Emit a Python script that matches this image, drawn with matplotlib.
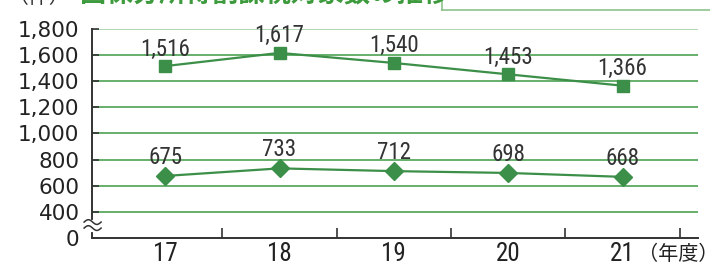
import matplotlib
matplotlib.use("Agg")
import matplotlib.pyplot as plt
import numpy as np
from matplotlib.lines import Line2D
from matplotlib import font_manager as fm

years = ["17", "18", "19", "20", "21"]
upper = [1516, 1617, 1540, 1453, 1366]
lower = [675, 733, 712, 698, 668]
yticks = [200, 400, 600, 800, 1000, 1200, 1400, 1600, 1800]
ytick_labels = ["0", "400", "600", "800", "1,000", "1,200", "1,400", "1,600", "1,800"]

# look for a condensed sans font for the numbers
cond_path = None
prefs = ["Liberation Sans Narrow", "Roboto Condensed", "DejaVu Sans Condensed",
         "Open Sans Condensed", "Noto Sans Condensed"]
for f in fm.fontManager.ttflist:
    fn = f.fname.lower()
    if ("condensed" in fn or "narrow" in fn) and "bold" not in fn and "italic" not in fn \
            and "light" not in fn and "oblique" not in fn and "semi" not in fn:
        if cond_path is None or any(p.lower().replace(" ", "") in fn.replace("-", "").replace("_", "") for p in prefs[:2]):
            cond_path = f.fname
if cond_path:
    condfp = lambda size: fm.FontProperties(fname=cond_path, size=size)
else:
    condfp = lambda size: fm.FontProperties(family="Liberation Sans", size=size * 0.8)

plt.rcParams['font.family'] = ['Liberation Sans', 'Noto Sans CJK JP', 'DejaVu Sans']

W, H = 710, 267
fig = plt.figure(figsize=(W/100, H/100), dpi=100)
ax = fig.add_axes([92/W, 1-238/H, (698-92)/W, (238-29)/H])

green = "#3c8f48"
gridc = "#5aa860"

x = np.arange(len(years))
ax.set_xlim(-0.64, 4.66)
ax.set_ylim(200, 1800)

for v in yticks[1:]:
    ax.axhline(v, color=("#a9d3ab" if v == 1800 else gridc), lw=1.3, zorder=1)

ax.plot(x, upper, color=green, lw=1.6, marker="s", ms=8, zorder=3)
ax.plot(x, lower, color=green, lw=1.6, marker="D", ms=9.5, zorder=3)

for xi, v in zip(x, upper):
    ax.annotate(f"{v:,}", (xi, v), xytext=(0, 4), textcoords="offset points",
                ha="center", va="bottom", color="#333333", fontproperties=condfp(16.5))
for xi, v in zip(x, lower):
    ax.annotate(f"{v:,}", (xi, v), xytext=(0, 5), textcoords="offset points",
                ha="center", va="bottom", color="#333333", fontproperties=condfp(16.5))

ax.set_yticks(yticks)
ax.set_yticklabels(ytick_labels, fontsize=15.5, color="#222222", family="DejaVu Sans")
ax.tick_params(axis="y", direction="in", length=5, width=1.2, color="#333333", pad=9)
ax.set_xticks(x)
ax.set_xticklabels(years)
for lab in ax.get_xticklabels():
    lab.set_fontproperties(condfp(18))
    lab.set_color("#222222")
ax.set_xticks(np.arange(0.5, 5.0, 1.0), minor=True)
ax.tick_params(axis="x", which="major", length=0, pad=3)
ax.tick_params(axis="x", which="minor", direction="in", length=7, width=1.2, color="#333333")

for s in ["top", "right"]:
    ax.spines[s].set_visible(False)
for s in ["left", "bottom"]:
    ax.spines[s].set_color("#333333")
    ax.spines[s].set_linewidth(1.4)

fig.text(638/W, 1-265/H, "（年度）", ha="left", va="bottom", fontsize=14.5,
         color="#222222", family=['Noto Sans CJK JP'])

# axis break
trans = ax.get_yaxis_transform()
ax.add_line(Line2D([0, 0], [265, 320], transform=trans, color="white", lw=3,
                   clip_on=False, zorder=5))
t = np.linspace(0, 1, 50)
for yc in [322, 276]:
    xs = -0.013 + 0.028 * t
    ys = yc + 18 * np.sin(t * 2 * np.pi)
    ax.add_line(Line2D(xs, ys, transform=trans, color="#333333", lw=1.1,
                       clip_on=False, zorder=6))

# cut-off header
fig.text(8/W, 1-8/H, "（件）", ha="left", va="bottom", fontsize=15, color="#333333",
         family=['Noto Sans CJK JP'])
fig.text(80/W, 1-8/H, "国保分所得割課税対象数の推移", ha="left", va="bottom",
         fontsize=19, color="#3d9a3d", weight="bold", family=['Noto Sans CJK JP'])
fig.add_artist(Line2D([442/W, 442/W], [1, 1-10/H], transform=fig.transFigure,
                      color="#8cc48c", lw=1.2))
fig.add_artist(Line2D([442/W, 1], [1-10/H, 1-10/H], transform=fig.transFigure,
                      color="#8cc48c", lw=1.2))

fig.savefig("out.png", dpi=100)
